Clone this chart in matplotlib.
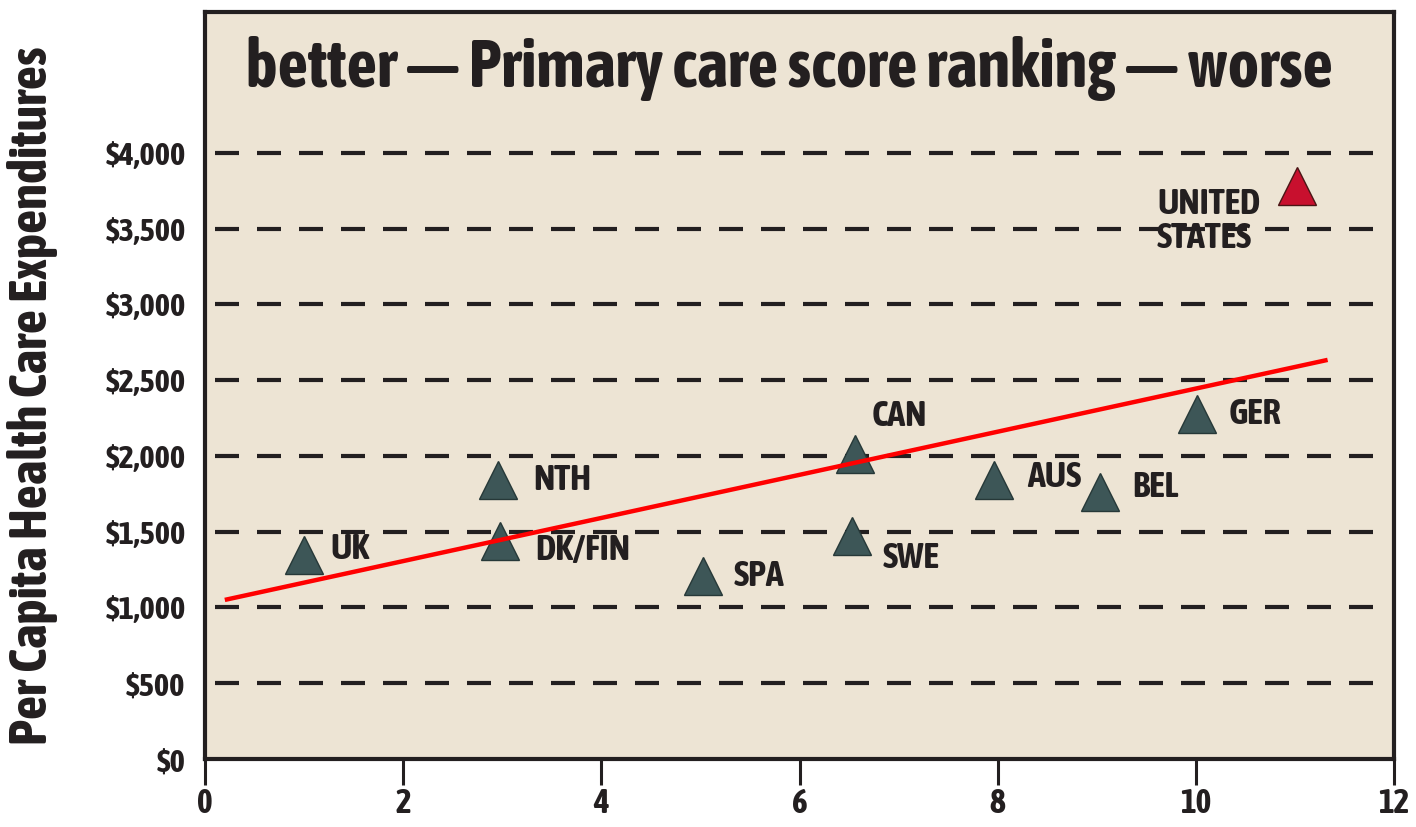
import matplotlib
matplotlib.use("Agg")
import matplotlib.pyplot as plt
from matplotlib import font_manager as fm

# ---- data ----
countries = ["UK", "NTH", "DK/FIN", "SPA", "CAN", "SWE", "AUS", "BEL", "GER", "UNITED\nSTATES"]
rank = [1.0, 2.96, 2.98, 5.03, 6.56, 6.53, 7.96, 9.03, 10.01, 11.02]
spend = [1345, 1840, 1440, 1205, 2010, 1475, 1840, 1760, 2280, 3780]
trend_x = [0.2, 11.33]
trend_y = [1050, 2634]
grid_levels = [500, 1000, 1500, 2000, 2500, 3000, 3500, 4000]
ytick_vals = [0, 500, 1000, 1500, 2000, 2500, 3000, 3500, 4000]
ytick_labels = ["$0", "$500", "$1,000", "$1,500", "$2,000", "$2,500", "$3,000", "$3,500", "$4,000"]
xtick_vals = [0, 2, 4, 6, 8, 10, 12]
title_text = "better \u2014 Primary care score ranking \u2014 worse"
ylabel_text = "Per Capita Health Care Expenditures"
# label offsets (pixels) relative to marker
label_dx = [26, 35, 35, 30, 17, 31, 33, 33, 32, -140]
label_dy = [6, 0, -9, 0, 38, -22, 3, 5, 0, -35]

# ---- pick a condensed bold font if one is installed ----
family, stretch = "Liberation Sans", "normal"
for f in fm.fontManager.ttflist:
    nm = f.name
    if ("Condensed" in nm or "Narrow" in nm) and str(f.weight) in ("bold", "700"):
        family, stretch = nm, "normal"
        break
else:
    for f in fm.fontManager.ttflist:
        if f.stretch in ("condensed", "semi-condensed", "extra-condensed", 600, 500) \
                and str(f.weight) in ("bold", "700") and f.name in ("DejaVu Sans", "Noto Sans", "Open Sans", "Roboto"):
            family, stretch = f.name, f.stretch
            break

plt.rcParams["font.family"] = [family, "DejaVu Sans"]
plt.rcParams["font.stretch"] = stretch
plt.rcParams["font.weight"] = "bold"

ink = "#231f20"
bg = "#ede4d4"

fig = plt.figure(figsize=(14.16, 8.27), dpi=100)
ax = fig.add_axes([205 / 1416, 68 / 827, 1189 / 1416, 747 / 827])
ax.set_facecolor(bg)
ax.set_xlim(0, 12)
ax.set_ylim(0, 4930)

ax.hlines(grid_levels, 0.1, 11.85, colors=ink, linewidth=3,
          linestyles=[(0, (5.76, 4.32))], zorder=1)

is_us = [c.startswith("UNITED") for c in countries]
for x, y, c, us in zip(rank, spend, countries, is_us):
    ax.plot(x, y, marker="^", markersize=27,
            markerfacecolor="#c8102e" if us else "#3d5657",
            markeredgecolor="#4a1515" if us else "#263838",
            markeredgewidth=1.0, linestyle="none", zorder=2)

ax.plot(trend_x, trend_y, color="#ff0000", linewidth=3.2, zorder=3,
        solid_capstyle="butt")

renderer = fig.canvas.get_renderer()


def fit(t, target_px, base, vertical=False, cap=1.3):
    t.set_fontsize(base)
    ext = t.get_window_extent(renderer)
    w = ext.height if vertical else ext.width
    s = base * min(target_px / w, cap)
    t.set_fontsize(s)
    return s


labels = []
for x, y, c, dx, dy in zip(rank, spend, countries, label_dx, label_dy):
    t = ax.annotate(c, (x, y), xytext=(dx, dy), textcoords="offset pixels",
                    ha="left", va="center", fontsize=22, fontweight="bold",
                    color=ink, linespacing=1.0, zorder=4)
    labels.append(t)
lab_size = fit(labels[2], 95, 22)
for t in labels:
    t.set_fontsize(lab_size)

title = ax.text(0.492, 0.925, title_text, transform=ax.transAxes,
                ha="center", va="center", fontsize=40, fontweight="bold", color=ink)
fit(title, 1086, 40)

ax.set_yticks(ytick_vals)
ax.set_yticklabels(ytick_labels)
ax.set_xticks(xtick_vals)
ax.tick_params(axis="y", length=0, pad=14, labelsize=21, labelcolor=ink)
ax.tick_params(axis="x", length=19, width=2.2, pad=1, labelsize=24,
               color=ink, labelcolor=ink, direction="out")
for lab in ax.get_xticklabels() + ax.get_yticklabels():
    lab.set_fontweight("bold")
ylab_size = fit(ax.get_yticklabels()[-1], 80, 21)
for lab in ax.get_yticklabels():
    lab.set_fontsize(ylab_size)

for s in ax.spines.values():
    s.set_linewidth(3)
    s.set_color(ink)

yl = fig.text(33 / 1416, 1 - 396 / 827, ylabel_text,
              rotation=90, ha="center", va="center", fontsize=28,
              fontweight="bold", color=ink)
fit(yl, 700, 28, vertical=True, cap=1.4)

fig.savefig("out.png", dpi=100, facecolor="white")
